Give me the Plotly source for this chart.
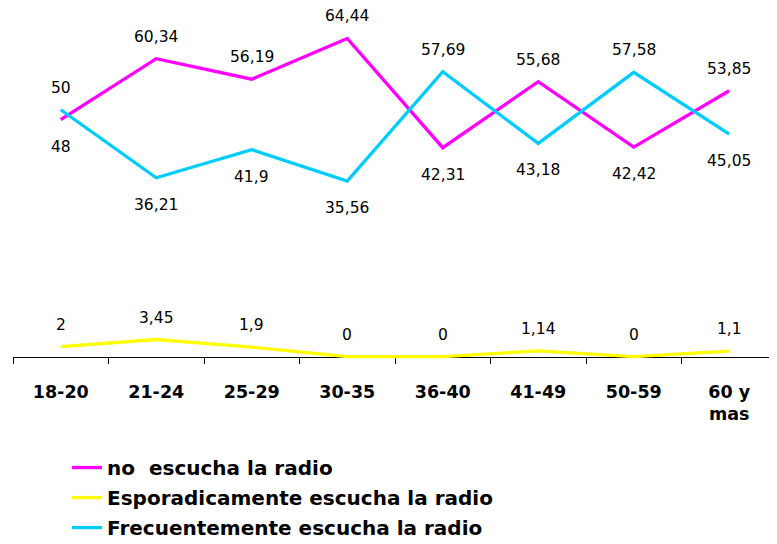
import plotly.graph_objects as go

categories = ['18-20', '21-24', '25-29', '30-35', '36-40', '41-49', '50-59', '60 y<br>mas']
no_escucha = [48, 60.34, 56.19, 64.44, 42.31, 55.68, 42.42, 53.85]
esporadica = [2, 3.45, 1.9, 0, 0, 1.14, 0, 1.1]
frecuente = [50, 36.21, 41.9, 35.56, 57.69, 43.18, 57.58, 45.05]

names = ['no  escucha la radio', 'Esporadicamente escucha la radio', 'Frecuentemente escucha la radio']
colors = ['#FF00FF', '#FFFF00', '#00CCFF']

fig = go.Figure()
for i, (vals, name, col) in enumerate(zip([no_escucha, esporadica, frecuente], names, colors)):
    fig.add_trace(go.Scatter(
        x=categories, y=vals, name=name, mode='lines',
        line=dict(color=col, width=3.3),
        legendgroup=str(i),
        hoverinfo='skip',
    ))


def fmt(v):
    return f'{v:g}'.replace('.', ',')


label_font = dict(family='DejaVu Sans', size=15.5, color='#000000')
annotations = []
for i, cat in enumerate(categories):
    a, b = no_escucha[i], frecuente[i]
    for v, up in ((a, a >= b), (b, b > a)):
        annotations.append(dict(x=cat, y=v, text=fmt(v), showarrow=False,
                                yshift=22 if up else -27, font=label_font))
    annotations.append(dict(x=cat, y=esporadica[i], text=fmt(esporadica[i]), showarrow=False,
                            yshift=22, font=label_font))

# page body adds an 8px margin, so the figure is drawn 8px smaller and shifted
fig.update_layout(
    width=769, height=536,
    margin=dict(l=5, r=0, t=3, b=184, autoexpand=False),
    paper_bgcolor='white', plot_bgcolor='white',
    annotations=annotations,
    showlegend=True,
    legend=dict(
        x=0.0707, y=0.179, xanchor='left', yanchor='top', yref='container',
        font=dict(family='DejaVu Sans', size=20, color='#000000', weight='bold'),
        tracegroupgap=1, bgcolor='rgba(0,0,0,0)',
    ),
    xaxis=dict(
        type='category', range=[-0.5, 7.5],
        anchor='free', position=0.7 / 70.7,
        showline=True, linecolor='#000000', linewidth=1.3,
        ticks='outside', tickson='boundaries', ticklen=6, tickcolor='#000000', tickwidth=1.3,
        showgrid=False, zeroline=False, layer='below traces',
        tickfont=dict(family='DejaVu Sans', size=17.5, color='#000000', weight='bold'),
        ticklabelstandoff=19,
        automargin=False,
        fixedrange=True,
    ),
    yaxis=dict(range=[-0.7, 70], visible=False, showgrid=False, zeroline=False, fixedrange=True),
)

fig.write_html('out.html')
